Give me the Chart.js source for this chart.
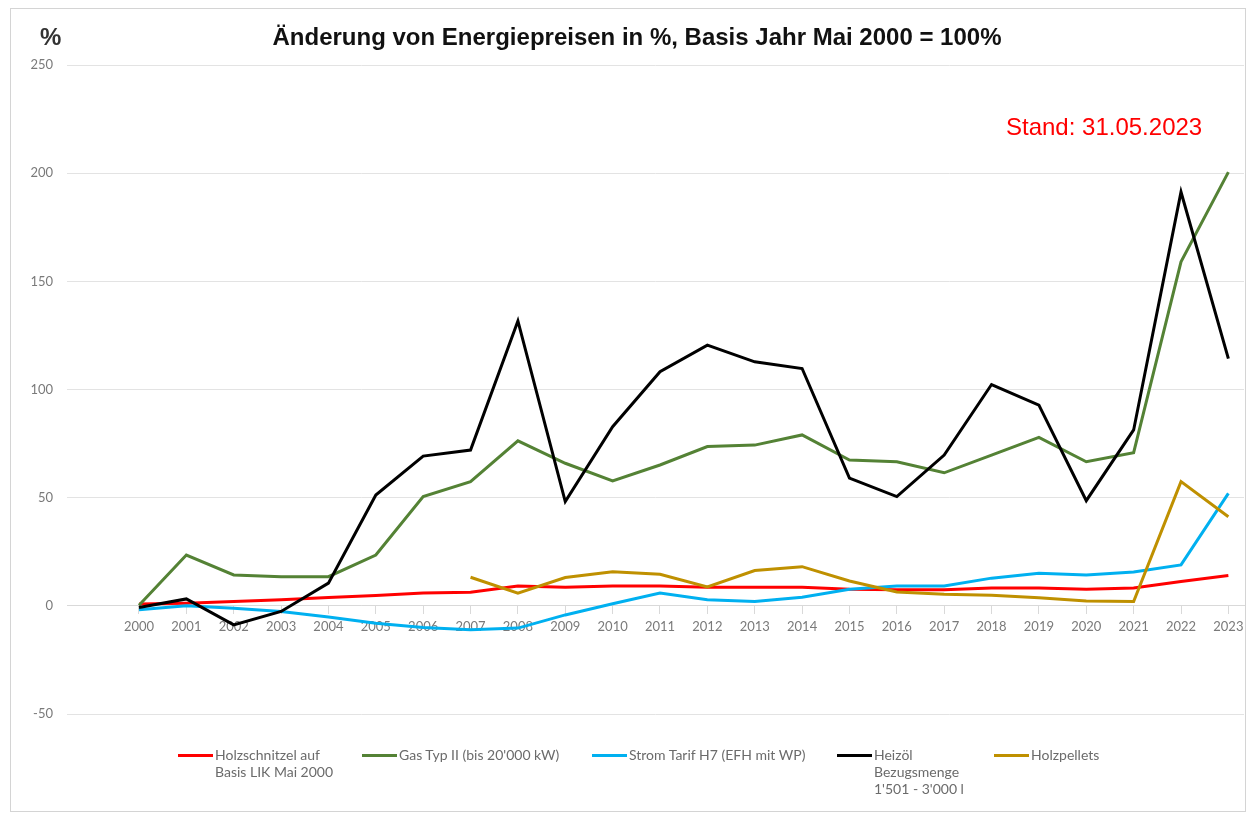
<!DOCTYPE html>
<html>
<head>
<meta charset="utf-8">
<script src="https://cdn.jsdelivr.net/npm/chart.js@4.4.1/dist/chart.umd.min.js"></script>
<style>
  html, body { margin: 0; padding: 0; background: #fff; }
  body { width: 1249px; height: 816px; position: relative; overflow: hidden; }
  #frame { position: absolute; left: 10px; top: 8px; width: 1236px; height: 804px; border: 1px solid #d4d4d4; box-sizing: border-box; }
  #wrap { position: absolute; left: 0; top: 0; width: 1249px; height: 816px; }
  .txt { position: absolute; font-family: "Liberation Sans", Arial, sans-serif; white-space: nowrap; line-height: normal; }
  #pct { left: 40px; top: 23px; font-size: 24px; font-weight: bold; color: #333; }
  #title { left: 637px; top: 23px; transform: translateX(-50%); font-size: 24px; font-weight: bold; color: #111; }
  #stand { left: 1006px; top: 113px; font-size: 24px; color: #ff0000; }
  .leg { position: absolute; top: 746px; font-family: Lato, "Liberation Sans", sans-serif; font-size: 14px; line-height: 17px; color: #6b6b6b; }
  .leg .ln { position: absolute; top: 8px; width: 35px; height: 3px; }
  .leg .tx { position: absolute; white-space: nowrap; }
</style>
</head>
<body>
<div id="frame"></div>
<div id="wrap"><canvas id="c" width="1249" height="816"></canvas></div>
<div class="txt" id="pct">%</div>
<div class="txt" id="title">Änderung von Energiepreisen in %, Basis Jahr Mai 2000 = 100%</div>
<div class="txt" id="stand">Stand: 31.05.2023</div>
<div id="legend"></div>
<script>
const years = [2000,2001,2002,2003,2004,2005,2006,2007,2008,2009,2010,2011,2012,2013,2014,2015,2016,2017,2018,2019,2020,2021,2022,2023];
const yTicks = [-50, 0, 50, 100, 150, 200, 250];

const holzschnitzel = [0.8, 1.2, 2.0, 2.8, 3.8, 4.8, 5.9, 6.3, 9.2, 8.6, 9.2, 9.2, 8.6, 8.6, 8.6, 7.7, 7.4, 7.4, 8.2, 8.2, 7.7, 8.2, 11.2, 14.0];
const gas = [0.3, 23.5, 14.3, 13.5, 13.5, 23.5, 50.5, 57.4, 76.3, 65.9, 57.7, 65.1, 73.6, 74.3, 79.0, 67.4, 66.6, 61.5, 69.7, 77.9, 66.6, 70.8, 159.0, 200.5];
const strom = [-1.8, 0.0, -1.1, -2.6, -5.2, -8.0, -10.0, -11.0, -10.3, -4.2, 1.0, 5.9, 2.8, 2.0, 4.0, 7.7, 9.2, 9.2, 12.8, 15.1, 14.3, 15.6, 18.9, 52.0];
const heizoel = [-0.8, 3.2, -8.8, -2.6, 10.5, 51.2, 69.2, 72.0, 131.7, 48.2, 82.8, 108.2, 120.5, 112.8, 109.7, 59.0, 50.5, 69.7, 102.3, 92.8, 48.6, 81.3, 191.3, 114.3];
const holzpellets = [null, null, null, null, null, null, null, 13.2, 5.9, 13.1, 15.8, 14.6, 8.7, 16.3, 18.1, 11.5, 6.4, 5.4, 4.9, 3.7, 2.2, 2.0, 57.4, 41.2];

const seriesNames = [
  ["Holzschnitzel auf", "Basis LIK Mai 2000"],
  ["Gas Typ II (bis 20'000 kW)"],
  ["Strom Tarif H7 (EFH mit WP)"],
  ["Heizöl", "Bezugsmenge", "1'501 - 3'000 l"],
  ["Holzpellets"]
];
const seriesColors = ["#ff0000", "#548235", "#00b0f0", "#000000", "#bf9000"];
const seriesData = [holzschnitzel, gas, strom, heizoel, holzpellets];
const legendX = [178, 362, 592, 837, 994];

const datasets = seriesData.map((d, i) => ({
  label: seriesNames[i].join(' '),
  data: d,
  borderColor: seriesColors[i],
  backgroundColor: seriesColors[i],
  borderWidth: 3,
  pointRadius: 0,
  tension: 0,
  fill: false,
  spanGaps: false,
  order: 5 - i
}));

// HTML legend
const legEl = document.getElementById('legend');
seriesNames.forEach((n, i) => {
  const d = document.createElement('div');
  d.className = 'leg';
  d.style.left = legendX[i] + 'px';
  d.innerHTML = '<div class="ln" style="left:0;background:' + seriesColors[i] + '"></div>' +
    '<div class="tx" style="left:37px">' + n.join('<br>') + '</div>';
  legEl.appendChild(d);
});

const tickFont = { family: 'Lato, "Liberation Sans", sans-serif', size: 13 };

new Chart(document.getElementById('c'), {
  type: 'line',
  data: { labels: years, datasets },
  options: {
    responsive: false,
    animation: false,
    events: [],
    layout: { padding: { left: 0, top: 65, right: 5, bottom: 102 } },
    plugins: { legend: { display: false }, title: { display: false }, tooltip: { enabled: false } },
    scales: {
      x: {
        type: 'linear',
        position: { y: 0 },
        min: 1998.48,
        max: 2023.33,
        afterBuildTicks: s => { s.ticks = years.map(v => ({ value: v })); },
        ticks: {
          autoSkip: false,
          maxRotation: 0,
          color: '#7a7a7a',
          font: tickFont,
          padding: 5,
          callback: v => String(v)
        },
        grid: { drawOnChartArea: false, drawTicks: true, tickLength: 8, tickColor: '#d9d9d9', tickWidth: 1 },
        border: { display: true, color: '#d9d9d9', width: 1 }
      },
      y: {
        min: -50,
        max: 250,
        afterBuildTicks: s => { s.ticks = yTicks.map(v => ({ value: v })); },
        afterFit: s => { s.width = 67; },
        ticks: { color: '#7a7a7a', font: tickFont, padding: 14 },
        grid: { color: '#e3e3e3', lineWidth: 1, drawTicks: false },
        border: { display: false }
      }
    }
  }
});
</script>
</body>
</html>
